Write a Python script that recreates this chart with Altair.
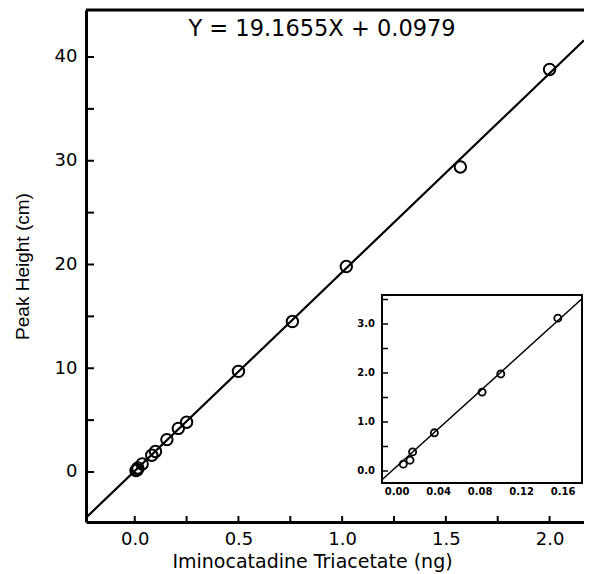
import altair as alt
import pandas as pd

# ---- data ----
main_x = [0.006, 0.0125, 0.015, 0.036, 0.082, 0.1, 0.155, 0.21, 0.25, 0.5, 0.76, 1.02, 1.57, 2.0]
main_y = [0.14, 0.22, 0.39, 0.78, 1.61, 1.98, 3.12, 4.2, 4.8, 9.7, 14.5, 19.8, 29.4, 38.8]

inset_x = [0.006, 0.0125, 0.015, 0.036, 0.082, 0.1, 0.155]
inset_y = [0.14, 0.22, 0.39, 0.78, 1.61, 1.98, 3.12]

slope = 19.1655
intercept = 0.0979
equation = "Y = 19.1655X + 0.0979"

main_x_domain = [-0.235, 2.166]
main_y_domain = [-4.82, 44.53]
inset_x_domain = [-0.0145, 0.1783]
inset_y_domain = [-0.245, 3.592]

main_line_x = [-0.235, 2.166]
inset_line_x = [-0.0145, 0.178]

x_label_values = [0.0, 0.5, 1.0, 1.5, 2.0]
y_label_values = [0, 10, 20, 30, 40]
x_tick_values = [0.0, 0.25, 0.5, 0.75, 1.0, 1.25, 1.5, 1.75, 2.0]
y_tick_values = [0, 5, 10, 15, 20, 25, 30, 35, 40]
inset_x_labels = [0.0, 0.04, 0.08, 0.12, 0.16]
inset_x_texts = ["0.00", "0.04", "0.08", "0.12", "0.16"]
inset_y_labels = [0.0, 1.0, 2.0, 3.0]
inset_y_texts = ["0.0", "1.0", "2.0", "3.0"]
inset_y_ticks = [0.0, 0.5, 1.0, 1.5, 2.0, 2.5, 3.0, 3.5]

ann_x = [0.903]
ann_y = [42.7]

# ---- layout ----
W, H = 498, 512
IX0, IX1 = 296, 496   # inset frame (pixels in plot area)
IY0, IY1 = 285, 473

main_df = pd.DataFrame({"x": main_x, "y": main_y})
inset_df = pd.DataFrame({"x": inset_x, "y": inset_y})
main_line_df = pd.DataFrame({"x": main_line_x,
                             "y": [slope * v + intercept for v in main_line_x]})
inset_line_df = pd.DataFrame({"x": inset_line_x,
                              "y": [slope * v + intercept for v in inset_line_x]})
xt_df = pd.DataFrame({"x": x_tick_values})
yt_df = pd.DataFrame({"y": y_tick_values})
iyt_df = pd.DataFrame({"y": inset_y_ticks})
ixl_df = pd.DataFrame({"x": inset_x_labels, "t": inset_x_texts})
iyl_df = pd.DataFrame({"y": inset_y_labels, "t": inset_y_texts})
ann_df = pd.DataFrame({"x": ann_x, "y": ann_y, "t": [equation]})
one_df = pd.DataFrame({"a": [0]})

xs = alt.Scale(domain=main_x_domain, nice=False, zero=False)
ys = alt.Scale(domain=main_y_domain, nice=False, zero=False)
ixs = alt.Scale(domain=inset_x_domain, range=[IX0, IX1], nice=False, zero=False)
iys = alt.Scale(domain=inset_y_domain, range=[IY1, IY0], nice=False, zero=False)

x_axis = alt.Axis(values=x_label_values, format=".1f", ticks=False, grid=False,
                  domainWidth=3, domainColor="black",
                  labelFont="DejaVu Sans", labelFontSize=18, labelColor="black",
                  labelPadding=8,
                  title="Iminocatadine Triacetate (ng)", titleFont="DejaVu Sans",
                  titleFontSize=19, titleFontWeight="normal", titleColor="black",
                  titleX=226, titleY=45, titleBaseline="alphabetic")
y_axis = alt.Axis(values=y_label_values, format="d", ticks=False, grid=False,
                  domainWidth=3, domainColor="black",
                  labelFont="DejaVu Sans", labelFontSize=18, labelColor="black",
                  labelPadding=9,
                  title="Peak Height (cm)", titleFont="Liberation Sans",
                  titleFontSize=19, titleFontWeight="normal", titleColor="black",
                  titlePadding=22)

MX = alt.X("x:Q", scale=xs, axis=x_axis)
MY = alt.Y("y:Q", scale=ys, axis=y_axis)
IX = alt.X("x:Q", scale=ixs, axis=None)
IY = alt.Y("y:Q", scale=iys, axis=None)

# ---- main panel ----
mpts = alt.Chart(main_df).mark_point(shape="circle", filled=False, color="black",
                                     size=130, strokeWidth=2, opacity=1).encode(x=MX, y=MY)
xticks = alt.Chart(xt_df).mark_rule(color="black", strokeWidth=2).encode(
    x=MX, y=alt.value(H), y2=alt.value(H - 6))
yticks = alt.Chart(yt_df).mark_rule(color="black", strokeWidth=2).encode(
    y=MY, x=alt.value(0), x2=alt.value(8))
mline = alt.Chart(main_line_df).mark_line(color="black", strokeWidth=2.2, clip=True).encode(
    x=MX, y=MY)
ann = alt.Chart(ann_df).mark_text(font="DejaVu Sans", fontSize=22.5, color="black",
                                  align="center", baseline="middle").encode(
    x=MX, y=MY, text="t:N")
toprule = alt.Chart(one_df).mark_rule(color="black", strokeWidth=3).encode(
    y=alt.value(0), x=alt.value(0), x2=alt.value(W))

main = alt.layer(mpts, xticks, yticks, mline, ann, toprule)

# ---- inset panel ----
frame = alt.Chart(one_df).mark_rect(fill="white", stroke="black", strokeWidth=2).encode(
    x=alt.value(IX0), x2=alt.value(IX1), y=alt.value(IY0), y2=alt.value(IY1))
iticks = alt.Chart(iyt_df).mark_rule(color="black", strokeWidth=1.5).encode(
    y=IY, x=alt.value(IX0), x2=alt.value(IX0 + 6))
iline = alt.Chart(inset_line_df).mark_line(color="black", strokeWidth=1.5).encode(
    x=IX, y=IY)
ipts = alt.Chart(inset_df).mark_point(shape="circle", filled=False, color="black",
                                      size=50, strokeWidth=1.8, opacity=1).encode(x=IX, y=IY)
ixlab = alt.Chart(ixl_df).mark_text(font="DejaVu Sans", fontSize=10, fontWeight="bold",
                                    color="black", align="center", baseline="middle").encode(
    x=IX, y=alt.value(IY1 + 9), text="t:N")
iylab = alt.Chart(iyl_df).mark_text(font="DejaVu Sans", fontSize=10, fontWeight="bold",
                                    color="black", align="right", baseline="middle").encode(
    y=IY, x=alt.value(IX0 - 7), text="t:N")

inset = alt.layer(frame, iticks, iline, ipts, ixlab, iylab)

chart = alt.layer(main, inset).resolve_scale(
    x="independent", y="independent"
).properties(
    width=W, height=H,
    padding={"left": 78, "top": 2, "right": 0, "bottom": 50},
    autosize="none",
).configure_view(stroke=None).configure(background="white")

chart.save("out.html", embed_options={"renderer": "svg", "actions": False})
